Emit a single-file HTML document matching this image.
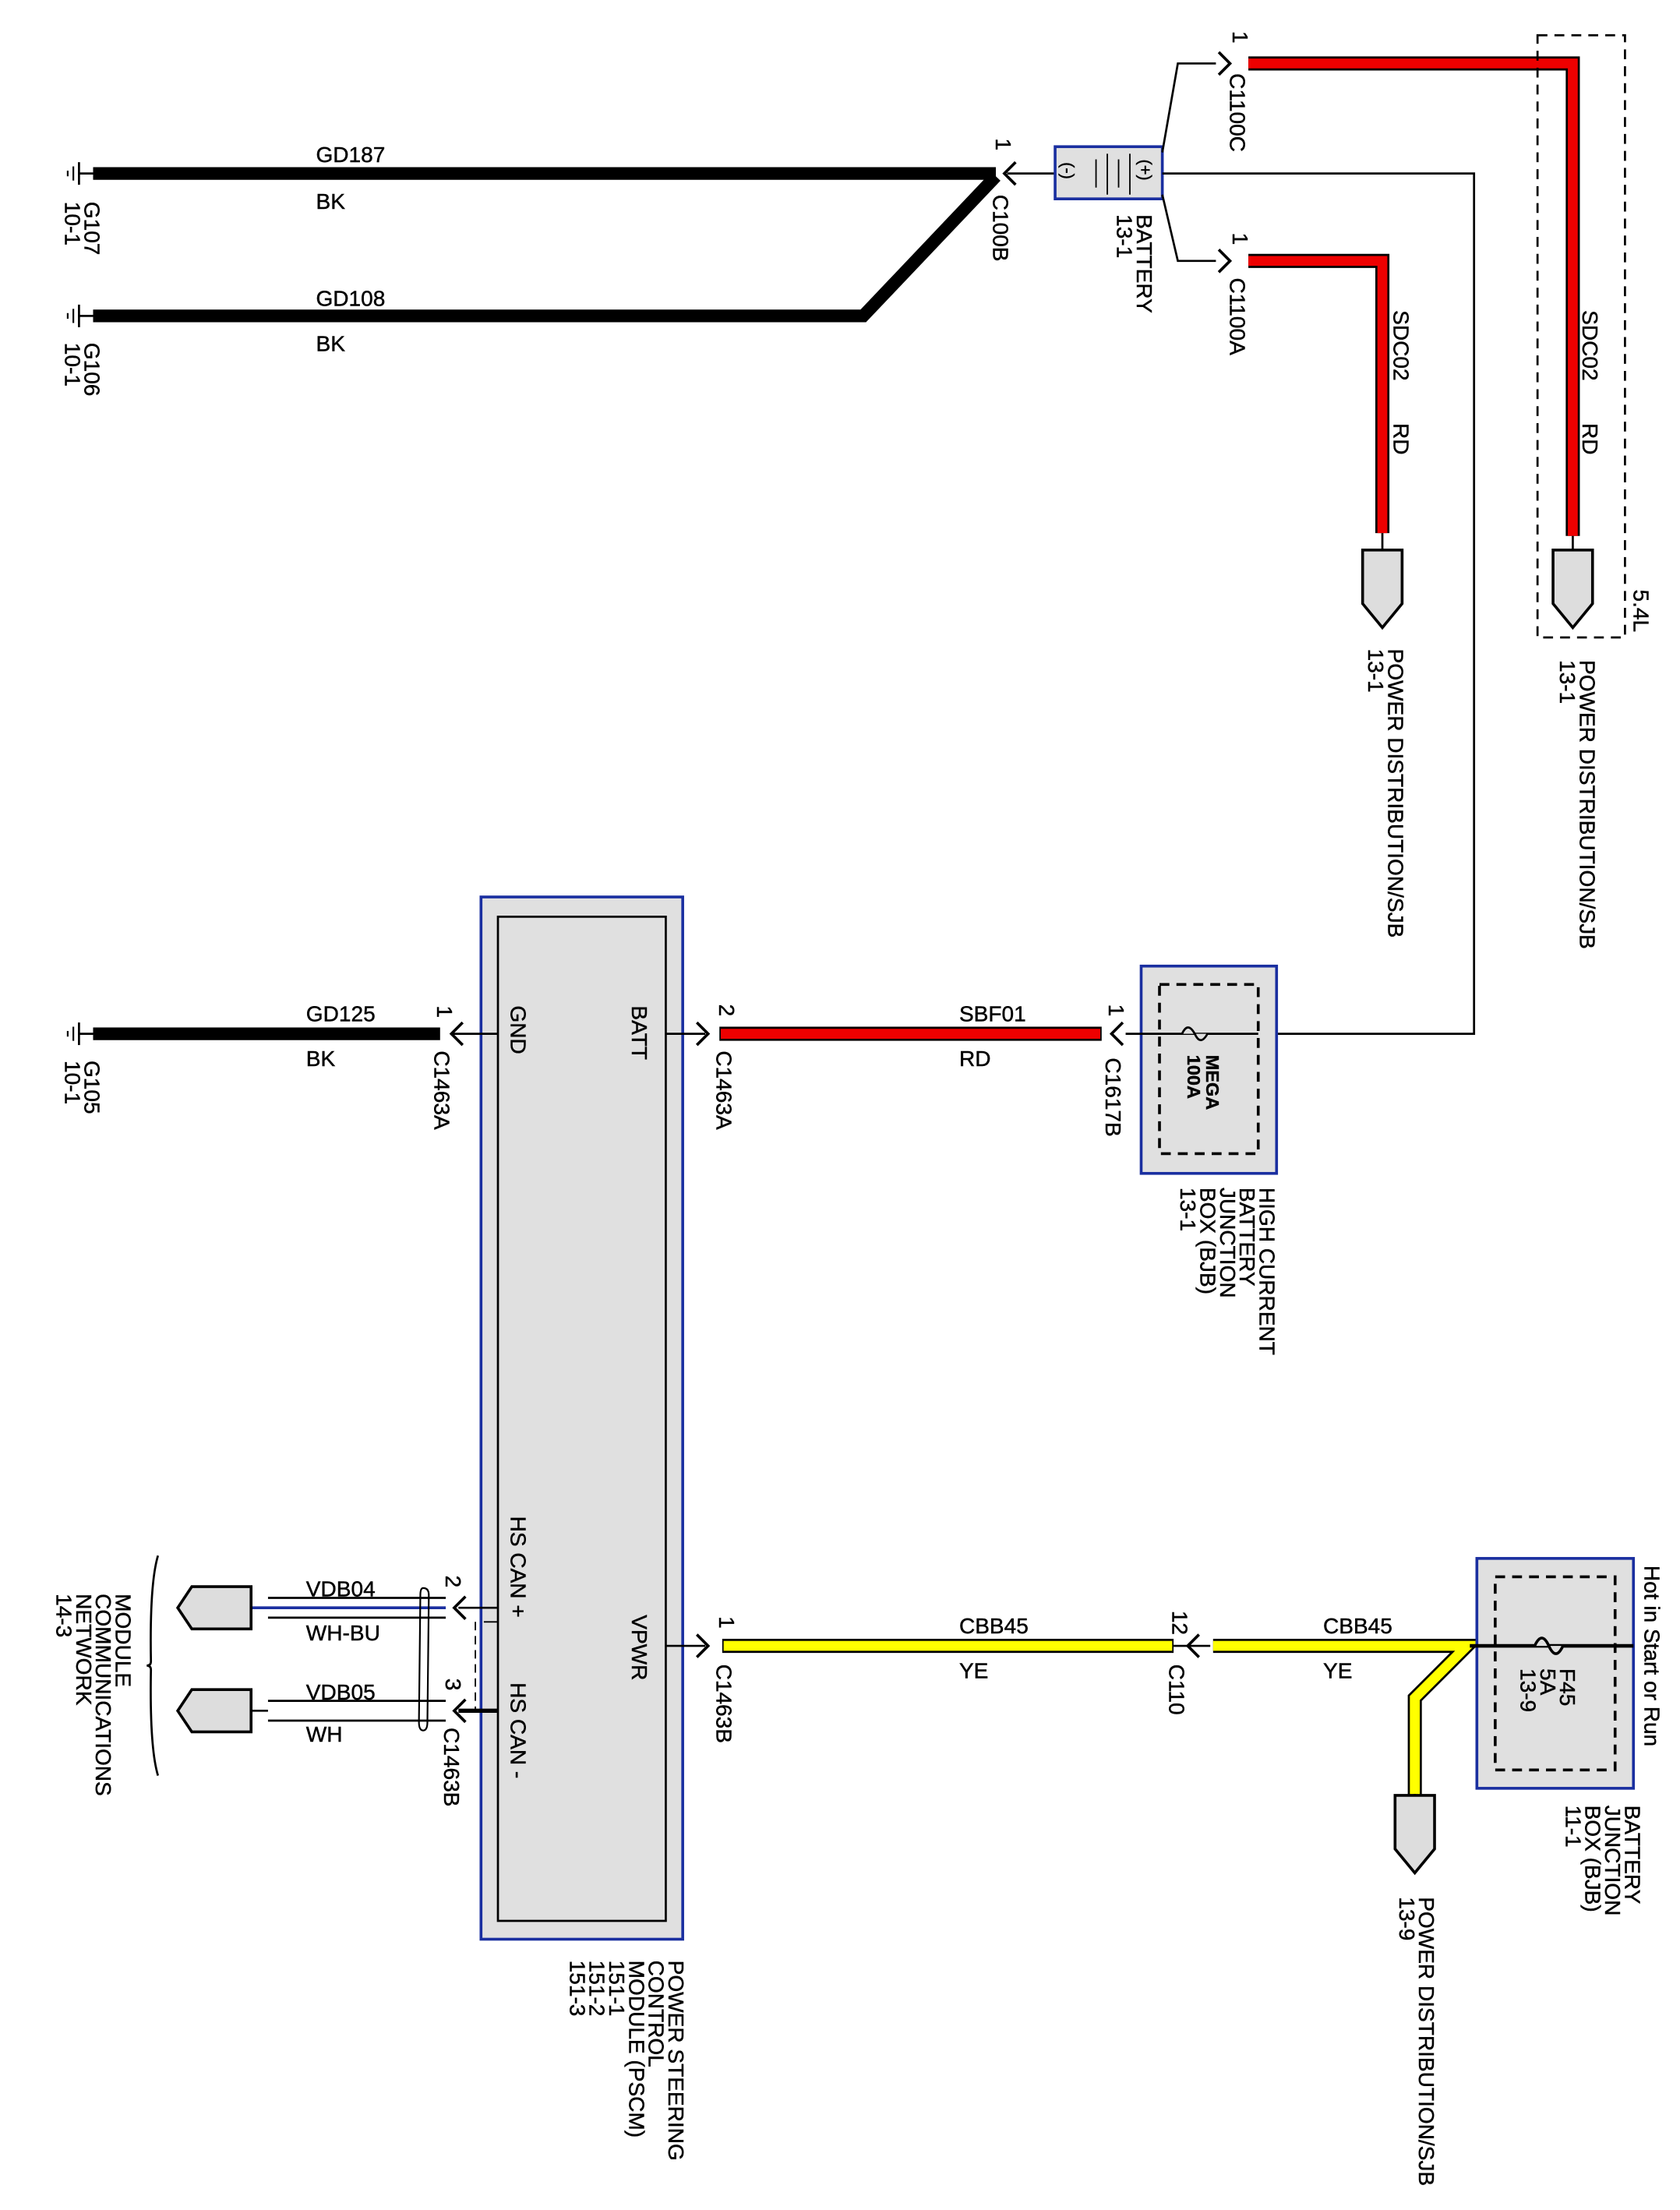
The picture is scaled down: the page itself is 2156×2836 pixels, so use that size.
<!DOCTYPE html>
<html><head><meta charset="utf-8"><style>
html,body{margin:0;padding:0;background:#fff}
svg{display:block}
text{font-family:"Liberation Sans",Arial,sans-serif;font-size:15.5px;fill:#000;stroke:#000;stroke-width:0.25}
</style></head><body>
<svg width="2156" height="2836" viewBox="0 0 1191 1567" preserveAspectRatio="none" xmlns="http://www.w3.org/2000/svg">
<defs>
<g id="gnd"><line x1="0" y1="0" x2="10" y2="0" stroke="#000" stroke-width="1.5"/><line x1="0" y1="-8" x2="0" y2="8" stroke="#000" stroke-width="1.5"/><line x1="-4" y1="-5" x2="-4" y2="5" stroke="#000" stroke-width="1.2"/><line x1="-8" y1="-2" x2="-8" y2="2" stroke="#000" stroke-width="1.2"/></g>
<g id="arrL"><polyline points="6,-8 -2,0 6,8" fill="none" stroke="#000" stroke-width="2"/></g>
<g id="arrR"><polyline points="-6,-8 2,0 -6,8" fill="none" stroke="#000" stroke-width="2"/></g>
<g id="pdn"><polygon points="-14,0 14,0 14,38 0,55 -14,38" fill="#ddd" stroke="#000" stroke-width="2"/></g>
<g id="plf"><polygon points="0,-15 -42,-15 -52,0 -42,15 0,15" fill="#ddd" stroke="#000" stroke-width="2"/></g>
</defs>

<use href="#gnd" x="56" y="123"/>
<use href="#gnd" x="56" y="224"/>
<use href="#gnd" x="56" y="733"/>
<text transform="translate(60,143) rotate(90)">G107</text>
<text transform="translate(46,143) rotate(90)">10-1</text>
<text transform="translate(60,243) rotate(90)">G106</text>
<text transform="translate(46,243) rotate(90)">10-1</text>
<text transform="translate(60,752) rotate(90)">G105</text>
<text transform="translate(46,752) rotate(90)">10-1</text>

<polyline points="66,123 706,123" stroke="#000" stroke-width="9" fill="none"/>
<polyline points="66,224 612,224 706,125" stroke="#000" stroke-width="9" fill="none"/>
<text x="224" y="115">GD187</text><text x="224" y="148">BK</text>
<text x="224" y="217">GD108</text><text x="224" y="249">BK</text>
<use href="#arrL" x="714" y="123"/>
<line x1="714" y1="123" x2="748" y2="123" stroke="#000" stroke-width="1.5"/>
<text transform="translate(706,98) rotate(90)">1</text>
<text transform="translate(704,138) rotate(90)">C100B</text>

<rect x="748" y="104" width="76" height="37" fill="#e0e0e0" stroke="#1a2fa0" stroke-width="2"/>
<text transform="translate(753,115) rotate(90)" style="font-size:12px">(-)</text>
<line x1="777" y1="113" x2="777" y2="133" stroke="#000"/><line x1="785" y1="109" x2="785" y2="138" stroke="#000"/>
<line x1="793" y1="113" x2="793" y2="133" stroke="#000"/><line x1="801" y1="109" x2="801" y2="138" stroke="#000"/>
<text transform="translate(808,113) rotate(90)" style="font-size:12px">(+)</text>
<text transform="translate(806,152) rotate(90)">BATTERY</text>
<text transform="translate(792,152) rotate(90)">13-1</text>
<polyline points="824,108 835,45 862,45" fill="none" stroke="#000" stroke-width="1.5"/>
<polyline points="824,138 835,185 862,185" fill="none" stroke="#000" stroke-width="1.5"/>
<use href="#arrR" x="870" y="45"/><use href="#arrR" x="870" y="185"/>
<text transform="translate(874,22) rotate(90)">1</text>
<text transform="translate(872,52) rotate(90)">C1100C</text>
<text transform="translate(874,165) rotate(90)">1</text>
<text transform="translate(872,197) rotate(90)">C1100A</text>
<polyline points="824,123 1045,123 1045,733 892,733" fill="none" stroke="#000" stroke-width="1.5"/>

<polyline points="885,45 1115,45 1115,380" fill="none" stroke="#000" stroke-width="10"/>
<polyline points="885,45 1115,45 1115,380" fill="none" stroke="#e00" stroke-width="7"/>
<polyline points="885,185 980,185 980,378" fill="none" stroke="#000" stroke-width="10"/>
<polyline points="885,185 980,185 980,378" fill="none" stroke="#e00" stroke-width="7"/>
<line x1="980" y1="378" x2="980" y2="390" stroke="#000" stroke-width="1.5"/>
<line x1="1115" y1="380" x2="1115" y2="390" stroke="#000" stroke-width="1.5"/>
<use href="#pdn" x="980" y="390"/><use href="#pdn" x="1115" y="390"/>
<text transform="translate(988,220) rotate(90)">SDC02</text>
<text transform="translate(988,300) rotate(90)">RD</text>
<text transform="translate(1122,220) rotate(90)">SDC02</text>
<text transform="translate(1122,300) rotate(90)">RD</text>
<rect x="1090" y="25" width="62" height="427" fill="none" stroke="#000" stroke-width="1.5" stroke-dasharray="7,5"/>
<text transform="translate(1158,418) rotate(90)">5.4L</text>
<text transform="translate(984,460) rotate(90)">POWER DISTRIBUTION/SJB</text>
<text transform="translate(970,460) rotate(90)">13-1</text>
<text transform="translate(1120,468) rotate(90)">POWER DISTRIBUTION/SJB</text>
<text transform="translate(1106,468) rotate(90)">13-1</text>

<rect x="809" y="685" width="96" height="147" fill="#e0e0e0" stroke="#1a2fa0" stroke-width="2"/>
<rect x="822" y="698" width="70" height="120" fill="none" stroke="#000" stroke-width="2" stroke-dasharray="7,5"/>
<line x1="798" y1="733" x2="892" y2="733" stroke="#000" stroke-width="1.5"/>
<path d="M838,733 q4,-9 9,0 q4,9 9,0" fill="#e0e0e0" stroke="#000" stroke-width="1.5"/>
<text transform="translate(855,748) rotate(90)" style="font-size:13px;font-weight:bold">MEGA</text>
<text transform="translate(842,748) rotate(90)" style="font-size:13px;font-weight:bold">100A</text>
<text transform="translate(893,842) rotate(90)">HIGH CURRENT</text>
<text transform="translate(879,842) rotate(90)">BATTERY</text>
<text transform="translate(865,842) rotate(90)">JUNCTION</text>
<text transform="translate(851,842) rotate(90)">BOX (BJB)</text>
<text transform="translate(837,842) rotate(90)">13-1</text>

<rect x="341" y="636" width="143" height="739" fill="#e0e0e0" stroke="#1a2fa0" stroke-width="2"/>
<rect x="353" y="650" width="119" height="712" fill="none" stroke="#000" stroke-width="1.5"/>
<text transform="translate(362,713) rotate(90)">GND</text>
<text transform="translate(448,713) rotate(90)">BATT</text>
<text transform="translate(448,1145) rotate(90)">VPWR</text>
<text transform="translate(362,1075) rotate(90)">HS CAN +</text>
<text transform="translate(362,1193) rotate(90)">HS CAN -</text>
<text transform="translate(474,1390) rotate(90)">POWER STEERING</text>
<text transform="translate(460,1390) rotate(90)">CONTROL</text>
<text transform="translate(446,1390) rotate(90)">MODULE (PSCM)</text>
<text transform="translate(432,1390) rotate(90)">151-1</text>
<text transform="translate(418,1390) rotate(90)">151-2</text>
<text transform="translate(404,1390) rotate(90)">151-3</text>

<line x1="66" y1="733" x2="312" y2="733" stroke="#000" stroke-width="9"/>
<line x1="320" y1="733" x2="353" y2="733" stroke="#000" stroke-width="1.5"/>
<use href="#arrL" x="322" y="733"/>
<text x="217" y="724">GD125</text><text x="217" y="756">BK</text>
<text transform="translate(310,713) rotate(90)">1</text>
<text transform="translate(308,745) rotate(90)">C1463A</text>

<line x1="472" y1="733" x2="500" y2="733" stroke="#000" stroke-width="1.5"/>
<use href="#arrR" x="500" y="733"/>
<line x1="510" y1="733" x2="781" y2="733" stroke="#000" stroke-width="10"/>
<line x1="511" y1="733" x2="780" y2="733" stroke="#e00" stroke-width="7"/>
<use href="#arrL" x="790" y="733"/>
<text x="680" y="724">SBF01</text><text x="680" y="756">RD</text>
<text transform="translate(510,712) rotate(90)">2</text>
<text transform="translate(508,745) rotate(90)">C1463A</text>
<text transform="translate(786,712) rotate(90)">1</text>
<text transform="translate(784,750) rotate(90)">C1617B</text>

<line x1="472" y1="1167" x2="500" y2="1167" stroke="#000" stroke-width="1.5"/>
<use href="#arrR" x="500" y="1167"/>
<line x1="512" y1="1167" x2="832" y2="1167" stroke="#000" stroke-width="10"/>
<line x1="513" y1="1167" x2="831" y2="1167" stroke="#ff0" stroke-width="7"/>
<line x1="832" y1="1167" x2="858" y2="1167" stroke="#000" stroke-width="1.5"/>
<use href="#arrL" x="844" y="1167"/>
<polyline points="860,1167 1040,1167 1003,1204 1003,1285" fill="none" stroke="#000" stroke-width="10" stroke-linejoin="miter"/>
<polyline points="860,1167 1040,1167 1003,1204 1003,1285" fill="none" stroke="#ff0" stroke-width="7" stroke-linejoin="miter"/>
<line x1="1003" y1="1285" x2="1003" y2="1272" stroke="#000" stroke-width="1.5"/>
<use href="#pdn" x="1003" y="1273"/>
<text x="680" y="1158">CBB45</text><text x="680" y="1190">YE</text>
<text x="938" y="1158">CBB45</text><text x="938" y="1190">YE</text>
<text transform="translate(510,1146) rotate(90)">1</text>
<text transform="translate(508,1180) rotate(90)">C1463B</text>
<text transform="translate(831,1142) rotate(90)">12</text>
<text transform="translate(829,1180) rotate(90)">C110</text>
<text transform="translate(1006,1345) rotate(90)">POWER DISTRIBUTION/SJB</text>
<text transform="translate(992,1345) rotate(90)">13-9</text>

<rect x="1047" y="1105" width="111" height="163" fill="#e0e0e0" stroke="#1a2fa0" stroke-width="2"/>
<rect x="1060" y="1118" width="85" height="137" fill="none" stroke="#000" stroke-width="2" stroke-dasharray="7,5"/>
<line x1="1042" y1="1167" x2="1158" y2="1167" stroke="#000" stroke-width="2.5"/>
<path d="M1088,1167 q5,-11 10,0 q5,11 10,0" fill="#e0e0e0" stroke="#000" stroke-width="2"/>
<text transform="translate(1106,1183) rotate(90)">F45</text>
<text transform="translate(1092,1183) rotate(90)">5A</text>
<text transform="translate(1078,1183) rotate(90)">13-9</text>
<text transform="translate(1166,1110) rotate(90)">Hot in Start or Run</text>
<text transform="translate(1152,1280) rotate(90)">BATTERY</text>
<text transform="translate(1138,1280) rotate(90)">JUNCTION</text>
<text transform="translate(1124,1280) rotate(90)">BOX (BJB)</text>
<text transform="translate(1110,1280) rotate(90)">11-1</text>

<line x1="325" y1="1140" x2="353" y2="1140" stroke="#000" stroke-width="1.5"/>
<line x1="325" y1="1213" x2="353" y2="1213" stroke="#000" stroke-width="3"/>
<use href="#arrL" x="324" y="1140"/><use href="#arrL" x="324" y="1213"/>
<line x1="337" y1="1150" x2="337" y2="1212" stroke="#000" stroke-width="1" stroke-dasharray="6,4"/>
<line x1="343" y1="1150" x2="353" y2="1150" stroke="#000" stroke-width="1"/>
<line x1="190" y1="1133" x2="316" y2="1133" stroke="#000" stroke-width="1.5"/>
<line x1="178" y1="1140" x2="316" y2="1140" stroke="#1a2fa0" stroke-width="2"/>
<line x1="190" y1="1147" x2="316" y2="1147" stroke="#000" stroke-width="1.5"/>
<line x1="190" y1="1206" x2="316" y2="1206" stroke="#000" stroke-width="1.5"/>
<line x1="178" y1="1213" x2="190" y2="1213" stroke="#000" stroke-width="1.5"/>
<line x1="190" y1="1220" x2="316" y2="1220" stroke="#000" stroke-width="1.5"/>
<path d="M300,1126 q4,0 4,5 l-1,90 q0,6 -3,6 q-3,0 -3,-6 l1,-90 q0,-5 2,-5z" fill="none" stroke="#000" stroke-width="1.2"/>
<use href="#plf" x="178" y="1140"/><use href="#plf" x="178" y="1213"/>
<text x="217" y="1132">VDB04</text><text x="217" y="1163">WH-BU</text>
<text x="217" y="1205">VDB05</text><text x="217" y="1235">WH</text>
<text transform="translate(316,1117) rotate(90)">2</text>
<text transform="translate(316,1190) rotate(90)">3</text>
<text transform="translate(315,1225) rotate(90)">C1463B</text>
<path d="M112,1103 q-6,20 -5,75 q0,3 -3,3 q3,0 3,3 q-1,55 5,75" fill="none" stroke="#000" stroke-width="1.5"/>
<text transform="translate(82,1130) rotate(90)">MODULE</text>
<text transform="translate(68,1130) rotate(90)">COMMUNICATIONS</text>
<text transform="translate(54,1130) rotate(90)">NETWORK</text>
<text transform="translate(40,1130) rotate(90)">14-3</text>
</svg>
</body></html>
